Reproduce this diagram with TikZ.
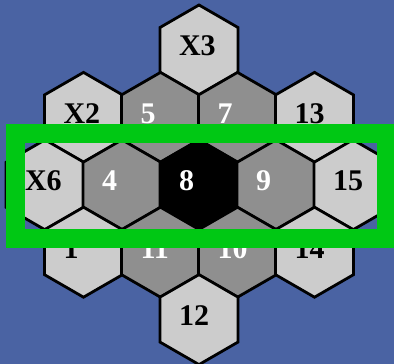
\documentclass[tikz,border=0pt]{standalone}
\usepackage{fontspec}
\setmainfont{Liberation Serif}
\usepackage{tikz}
\usetikzlibrary{shapes.geometric}
\definecolor{bgblue}{RGB}{74,99,163}
\definecolor{cellLight}{RGB}{204,204,204}
\definecolor{cellMid}{RGB}{143,143,143}
\definecolor{frameGreen}{RGB}{0,200,20}

\begin{document}
\begin{tikzpicture}[x=1pt,y=1pt,
    cell/.style={regular polygon,regular polygon sides=6,shape border rotate=30,
      minimum size=90pt,inner sep=0pt,draw=black,line width=2.8pt,
      text width=40pt,align=left,text height=20pt,text depth=8pt,
      font=\fontsize{30}{32}\selectfont\bfseries},
    lightcell/.style={cell,fill=cellLight,text=black},
    midcell/.style={cell,fill=cellMid,text=white},
    darkcell/.style={cell,fill=black,text=white}]
  \fill[bgblue] (0,0) rectangle (394,364);
  \useasboundingbox (0,0) rectangle (394,364);
  % honeycomb, row by row from the top
  \foreach \nm/\cx/\cy/\kind in {X3/199/314/lightcell,
      X2/83.5/246.6/lightcell,5/160.5/246.6/midcell,7/237.5/246.6/midcell,13/314.5/246.6/lightcell,
      X6/45/179.2/lightcell,4/122/179.2/midcell,8/199/179.2/darkcell,9/276/179.2/midcell,15/353/179.2/lightcell,
      1/83.5/111.8/lightcell,11/160.5/111.8/midcell,10/237.5/111.8/midcell,14/314.5/111.8/lightcell,
      12/199/44.4/lightcell}{
    \node[\kind] (h\nm) at (\cx,\cy) {\nm};
  }
  % frame round the middle row
  \draw[frameGreen,line width=19pt] (15.5,125) rectangle (386.5,230.5);
\end{tikzpicture}
\end{document}
